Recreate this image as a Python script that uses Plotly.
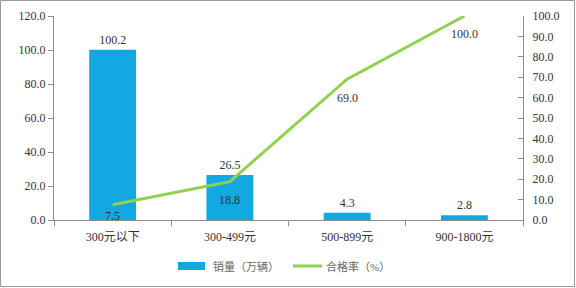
import plotly.graph_objects as go

categories = ["300元以下", "300-499元", "500-899元", "900-1800元"]
sales = [100.2, 26.5, 4.3, 2.8]
pass_rate = [7.5, 18.8, 69.0, 100.0]
left_ticks = [0, 20, 40, 60, 80, 100, 120]
right_ticks = [0, 10, 20, 30, 40, 50, 60, 70, 80, 90, 100]
series_names = ["销量（万辆）", "合格率（%）"]

# style
line_label_shift = [-11, -18, -19, -18]
FONT = "Liberation Serif, Noto Sans CJK SC, serif"
TXT = "#333333"
AX = "#8c8c8c"
BAR_C = "#12A9E2"
LINE_C = "#92D050"
L, R, T, B = 54, 53, 16, 68
W, H = 576, 288
PW, PH = W - L - R, H - T - B


def px(x):
    return (x - L) / PW


def py(y):
    return (H - B - y) / PH


fig = go.Figure()
fig.add_trace(go.Bar(
    x=categories, y=sales, name=series_names[0],
    marker=dict(color=BAR_C, line=dict(width=0)),
    width=0.4,
    text=[f"{v:.1f}" for v in sales], textposition="outside",
    textfont=dict(family=FONT, size=12, color=TXT),
    cliponaxis=False, showlegend=False,
))
fig.add_trace(go.Scatter(
    x=categories, y=pass_rate, name=series_names[1], yaxis="y2",
    mode="lines",
    line=dict(color=LINE_C, width=3),
    cliponaxis=False, showlegend=False,
))

annotations = []
for c, v, s in zip(categories, pass_rate, line_label_shift):
    annotations.append(dict(x=c, y=v, xref="x", yref="y2", text=f"{v:.1f}",
                            showarrow=False, yshift=s, yanchor="middle",
                            font=dict(family=FONT, size=12, color=TXT)))
# legend texts
annotations.append(dict(x=px(211), y=py(266), xref="paper", yref="paper",
                        text=series_names[0], showarrow=False, xanchor="left",
                        yanchor="middle", font=dict(family=FONT, size=11, color="#666666")))
annotations.append(dict(x=px(324), y=py(266), xref="paper", yref="paper",
                        text=series_names[1], showarrow=False, xanchor="left",
                        yanchor="middle", font=dict(family=FONT, size=11, color="#666666")))

shapes = [
    dict(type="rect", xref="paper", yref="paper",
         x0=px(0.5), x1=px(574.5), y0=py(286.5), y1=py(0.5),
         line=dict(color="#999999", width=1), layer="below"),
    dict(type="rect", xref="paper", yref="paper",
         x0=px(178), x1=px(205), y0=py(270), y1=py(262),
         line=dict(width=0), fillcolor=BAR_C),
    dict(type="line", xref="paper", yref="paper",
         x0=px(293), x1=px(322), y0=py(266), y1=py(266),
         line=dict(color=LINE_C, width=3)),
]

fig.update_layout(
    width=W, height=H,
    margin=dict(l=L, r=R, t=T, b=B, autoexpand=False),
    paper_bgcolor="white", plot_bgcolor="white",
    font=dict(family=FONT, size=12, color=TXT),
    showlegend=False,
    xaxis=dict(
        type="category", showline=True, linecolor=AX, linewidth=1,
        ticks="outside", tickson="boundaries", ticklen=5, tickcolor=AX,
        showgrid=False, tickfont=dict(family=FONT, size=12, color=TXT),
        automargin=False, ticklabelstandoff=6,
    ),
    yaxis=dict(
        range=[0, 120], tickvals=left_ticks,
        ticktext=[f"{v:.1f}" for v in left_ticks],
        showline=True, linecolor=AX, linewidth=1,
        ticks="outside", ticklen=5, tickcolor=AX,
        showgrid=False, zeroline=False, automargin=False,
        tickfont=dict(family=FONT, size=12, color=TXT),
    ),
    yaxis2=dict(
        overlaying="y", side="right",
        range=[0, 100], tickvals=right_ticks,
        ticktext=[f"{v:.1f}" for v in right_ticks],
        showline=True, linecolor=AX, linewidth=1,
        ticks="inside", ticklen=5, tickcolor=AX,
        showgrid=False, zeroline=False, automargin=False,
        ticklabelstandoff=6,
        tickfont=dict(family=FONT, size=12, color=TXT),
    ),
    annotations=annotations,
    shapes=shapes,
)

fig.write_html("out.html")
